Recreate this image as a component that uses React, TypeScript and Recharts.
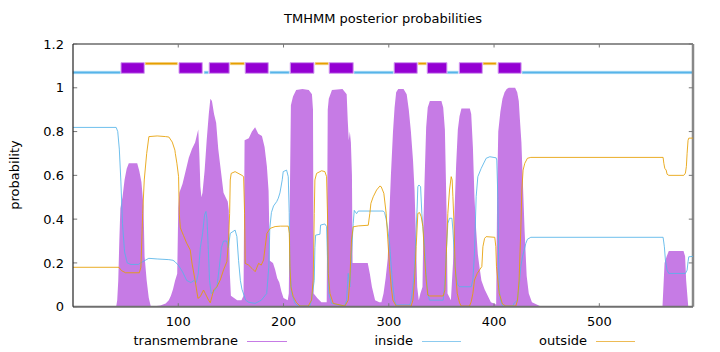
import React from 'react';
import { ComposedChart, Area, Line, XAxis, YAxis, ReferenceArea, ReferenceLine } from 'recharts';

const seqLength = 589;
const xTicks = [100, 200, 300, 400, 500];
const yTicks = [0, 0.2, 0.4, 0.6, 0.8, 1, 1.2];

const transmembrane: [number, number][] = [
  [0, 0], [41, 0], [42, 0.03], [43, 0.12], [44, 0.3], [45, 0.45], [47, 0.5], [49, 0.58], [51, 0.63], [53, 0.655],
  [61, 0.655], [63, 0.62], [65, 0.57], [67, 0.46], [68, 0.23], [70, 0.12], [72, 0.04], [74, 0], [83, 0.005],
  [88, 0.015], [91, 0.03], [93, 0.05], [95, 0.08], [97, 0.12], [99, 0.15], [100, 0.45], [101, 0.52], [104, 0.56],
  [107, 0.62], [110, 0.68], [113, 0.72], [116, 0.75], [118, 0.79], [119, 0.81], [120, 0.7], [121, 0.55], [122, 0.5],
  [123, 0.52], [125, 0.62], [127, 0.76], [129, 0.88], [130.5, 0.95], [132, 0.94], [134, 0.88], [136, 0.84],
  [138, 0.72], [139.5, 0.66], [141, 0.6], [143, 0.52], [145, 0.5], [147, 0.48], [148, 0.44], [149, 0.15],
  [150, 0.05], [156, 0.03], [160, 0.03], [162, 0.05], [163, 0.76], [167, 0.77], [170, 0.8], [173, 0.82],
  [176, 0.79], [179.5, 0.78], [182, 0.73], [184.2, 0.64], [185.8, 0.53], [187, 0.21], [190, 0.2], [192, 0.17],
  [194, 0.13], [196, 0.11], [198, 0.07], [200, 0.04], [204, 0.03], [205, 0.06], [206, 0.5], [207, 0.92],
  [209, 0.96], [212, 0.99], [218, 0.995], [224, 0.99], [227, 0.97], [228, 0.9], [228.6, 0.06], [232, 0.04],
  [236, 0.02], [241, 0.02], [242, 0.9], [243, 0.95], [246, 0.99], [256, 0.995], [260, 0.97], [261, 0.85],
  [262, 0.76], [263, 0.8], [264, 0.75], [265, 0.6], [265.6, 0.2], [269, 0.2], [280, 0.2], [282, 0.15],
  [284, 0.09], [287, 0.03], [291, 0.02], [293, 0.02], [295, 0.06], [297, 0.13], [299, 0.22], [300.5, 0.42],
  [302, 0.6], [304, 0.8], [305.5, 0.91], [307, 0.98], [309, 0.995], [314, 0.995], [317, 0.97], [319, 0.9],
  [321, 0.8], [323, 0.67], [324.5, 0.53], [326, 0.27], [327, 0.09], [328.5, 0.03], [330, 0.06], [332, 0.09],
  [333, 0.4], [334, 0.58], [335.5, 0.82], [337, 0.91], [339, 0.94], [350, 0.94], [351.7, 0.91], [353.3, 0.81],
  [354.9, 0.43], [355.8, 0.06], [359, 0.03], [361, 0.2], [362.4, 0.43], [364, 0.65], [365.6, 0.81], [367.2, 0.87],
  [369, 0.905], [377, 0.905], [378.3, 0.88], [379.9, 0.73], [381.4, 0.5], [383, 0.35], [384.6, 0.24],
  [386.2, 0.18], [388, 0.12], [391, 0.08], [394, 0.05], [397, 0.02], [402, 0.01], [403, 0.55], [404, 0.8],
  [406, 0.89], [408, 0.95], [410, 0.98], [412, 0.995], [414, 1.0], [420, 1.0], [422, 0.98], [423.5, 0.94],
  [424.5, 0.86], [426, 0.75], [427.5, 0.55], [429, 0.35], [431, 0.14], [433, 0.06], [436, 0.02], [445, 0],
  [560, 0], [561, 0.1], [562, 0.2], [564, 0.23], [566, 0.254], [580, 0.254], [581.5, 0.23], [582.5, 0.12],
  [584.5, 0], [589, 0],
];

const inside: [number, number][] = [
  [0, 0.819], [41, 0.819], [42.5, 0.8], [44, 0.72], [45.5, 0.57], [47, 0.38], [49, 0.25], [51.5, 0.2], [55, 0.193],
  [62, 0.193], [66, 0.205], [72, 0.221], [80, 0.218], [91, 0.215], [95, 0.212], [97, 0.205], [100, 0.19],
  [104, 0.16], [108, 0.12], [112, 0.11], [115, 0.12], [117, 0.11], [119, 0.15], [121, 0.27], [123, 0.33],
  [125, 0.42], [126.3, 0.435], [127.3, 0.4], [128.5, 0.27], [129.7, 0.12], [131.3, 0.06], [134, 0.07],
  [136.7, 0.09], [139, 0.18], [141, 0.27], [143, 0.3], [146, 0.3], [147.6, 0.27], [149.4, 0.335], [154, 0.35],
  [155.7, 0.32], [157.3, 0.21], [159, 0.12], [160.5, 0.08], [164, 0.03], [167, 0.02], [173, 0.015], [179, 0.03],
  [184, 0.06], [186, 0.18], [187, 0.36], [188.5, 0.43], [190.5, 0.46], [193.5, 0.48], [195, 0.495],
  [196.6, 0.52], [198.8, 0.58], [199.7, 0.617], [202.9, 0.624], [204.5, 0.594], [205.4, 0.43], [206, 0.18],
  [207.7, 0.06], [211, 0.015], [214, 0.003], [225, 0.003], [226.6, 0.03], [229.2, 0.12], [229.8, 0.27],
  [230.5, 0.327], [234.6, 0.331], [235.2, 0.373], [239.3, 0.378], [240.9, 0.366], [241.9, 0.2], [243.1, 0.06],
  [245.6, 0.015], [258, 0.003], [259.9, 0.03], [261.5, 0.152], [263, 0.09], [264.6, 0.245], [266.2, 0.38],
  [267.2, 0.44], [269.4, 0.425], [271, 0.437], [294.7, 0.437], [296, 0.43], [297.5, 0.4], [299.1, 0.35],
  [300.7, 0.29], [302.3, 0.183], [303.9, 0.09], [305.5, 0.03], [307, 0.008], [320, 0.008], [321.3, 0.03],
  [322.9, 0.09], [324.5, 0.183], [326, 0.35], [327, 0.46], [327.6, 0.548], [328.6, 0.556], [330.2, 0.548],
  [331.4, 0.426], [332.4, 0.365], [334, 0.274], [335.5, 0.152], [337.1, 0.06], [338.7, 0.03], [351.7, 0.03],
  [353.3, 0.122], [354.9, 0.274], [356.1, 0.38], [357.7, 0.404], [360, 0.404], [360.9, 0.35], [362.4, 0.228],
  [364, 0.137], [365.6, 0.099], [367.2, 0.091], [378.3, 0.091], [379.9, 0.122], [381.4, 0.244], [383, 0.503],
  [384.6, 0.594], [387.8, 0.632], [392.5, 0.678], [396, 0.685], [402, 0.68], [402.6, 0.67], [403.6, 0.5],
  [404.2, 0.27], [404.8, 0.09], [406, 0.03], [408, 0.003], [418, 0.003], [419, 0.015], [422, 0.03],
  [423.8, 0.091], [425.4, 0.183], [427, 0.228], [428.6, 0.259], [430.2, 0.289], [431.7, 0.308], [434.9, 0.317],
  [560.6, 0.317], [561.8, 0.274], [562.8, 0.213], [564.4, 0.167], [566, 0.152], [581.8, 0.152], [583.4, 0.167],
  [584.3, 0.206], [585, 0.228], [589, 0.23],
];

const outside: [number, number][] = [
  [0, 0.18], [43.6, 0.18], [46, 0.165], [50, 0.155], [63, 0.155], [64.5, 0.18], [66.2, 0.426], [67.7, 0.579],
  [70, 0.7], [72.1, 0.777], [80, 0.78], [88, 0.777], [91.1, 0.775], [94.3, 0.752], [96.8, 0.715], [97.2, 0.7],
  [98.7, 0.655], [100.3, 0.594], [101, 0.42], [102, 0.36], [105, 0.325], [108, 0.29], [111.4, 0.259],
  [113, 0.2], [116, 0.12], [118.7, 0.038], [120.9, 0.046], [124, 0.076], [125.6, 0.061], [128.8, 0.03],
  [130.4, 0.018], [132, 0.046], [133.6, 0.076], [136.7, 0.091], [139.9, 0.122], [143, 0.168], [146.2, 0.206],
  [147.8, 0.304], [148.8, 0.426], [149.4, 0.579], [150.3, 0.609], [154, 0.617], [160.5, 0.6], [162.1, 0.594],
  [163, 0.426], [163.6, 0.198], [166.8, 0.19], [170, 0.175], [173.1, 0.16], [176.3, 0.198], [178.8, 0.19],
  [181, 0.213], [182.6, 0.274], [184.2, 0.335], [187.4, 0.358], [192, 0.366], [197, 0.368], [204.5, 0.368],
  [205.5, 0.335], [206.1, 0.183], [207, 0.091], [209.2, 0.046], [212.4, 0.018], [215.6, 0.003], [223.5, 0.003],
  [226.6, 0.03], [228.2, 0.122], [229.2, 0.426], [229.8, 0.579], [231.4, 0.609], [236.2, 0.621], [239.3, 0.617],
  [240.9, 0.594], [241.9, 0.396], [242.5, 0.152], [244.1, 0.061], [247.2, 0.015], [258.3, 0.003], [261.5, 0.03],
  [263, 0.122], [264.6, 0.305], [266.2, 0.365], [271, 0.369], [280.5, 0.372], [282, 0.426], [283, 0.472],
  [285.2, 0.502], [288.4, 0.533], [291.5, 0.551], [292.8, 0.548], [295.3, 0.518], [297.5, 0.426], [299.1, 0.305],
  [300.7, 0.183], [302.3, 0.091], [303.9, 0.03], [307, 0.003], [321.3, 0.003], [322.9, 0.03], [324.5, 0.122],
  [326, 0.274], [327.6, 0.426], [329.2, 0.43], [330.8, 0.411], [332.4, 0.365], [334, 0.228], [335.5, 0.122],
  [337.1, 0.053], [338.7, 0.049], [351.7, 0.049], [353.3, 0.076], [354.9, 0.274], [356.1, 0.426], [357.7, 0.533],
  [359.3, 0.594], [360.2, 0.579], [360.9, 0.503], [361.8, 0.396], [363, 0.183], [365, 0.061], [367.2, 0.018],
  [368.8, 0.003], [376.7, 0.003], [378.3, 0.023], [379.9, 0.061], [381.4, 0.122], [384, 0.152], [386.2, 0.168],
  [388.4, 0.183], [389.4, 0.274], [391, 0.312], [392.5, 0.32], [400.7, 0.317], [401.7, 0.274], [402.3, 0.183],
  [404.9, 0.061], [408, 0.012], [411.2, 0.003], [420.7, 0.003], [422.3, 0.03], [423.8, 0.122], [425.4, 0.35],
  [426.4, 0.533], [427.6, 0.624], [429.2, 0.655], [431.7, 0.678], [434.9, 0.682], [560.6, 0.682], [561.3, 0.655],
  [562.2, 0.632], [563.5, 0.624], [564.4, 0.605], [566, 0.6], [580.2, 0.6], [581.8, 0.61], [582.7, 0.64],
  [583.4, 0.7], [584.3, 0.76], [585, 0.77], [589, 0.77],
];

const helixSegments: [number, number][] = [
  [45.6, 67.7], [100.7, 122.8], [129.4, 148.4], [163.6, 185.5], [206.4, 228.9],
  [243.4, 266.2], [305.1, 327], [336.5, 355.2], [367, 388.8], [403.9, 425.7],
];
const insideSegments: [number, number][] = [
  [0, 45], [124.7, 128.5], [187.1, 205.4], [267.1, 304.2], [355.5, 365.9], [426.7, 589],
];
const outsideSegments: [number, number][] = [
  [68.7, 99.1], [149.4, 162.7], [230.1, 242.5], [328, 335.6], [389.7, 402],
];

const HELIX_BAND: [number, number] = [1.0662, 1.1147];
const INSIDE_BAND: [number, number] = [1.0645, 1.0755];
const OUTSIDE_BAND: [number, number] = [1.1055, 1.1155];

const toRows = (pts: [number, number][]) => pts.map(([x, y]) => ({ x, y }));
const tmRows = toRows(transmembrane);
const inRows = toRows(inside);
const outRows = toRows(outside);

const FONT = '"DejaVu Sans", sans-serif';
const PURPLE = '#C67BE5';
const BLUE = '#56B4E9';
const ORANGE = '#E69F00';

const textStyle: React.CSSProperties = {
  position: 'absolute',
  fontFamily: FONT,
  fontSize: 13,
  color: '#000',
  whiteSpace: 'nowrap',
  lineHeight: '16px',
};

export default function App() {
  return (
    <div style={{ position: 'absolute', left: 0, top: 0, width: 720, height: 352, background: '#fff' }}>
      <ComposedChart width={720} height={352} margin={{ top: 44, right: 27, left: 0, bottom: 15.3 }}>
        <XAxis
          type="number"
          dataKey="x"
          domain={[0, seqLength]}
          ticks={xTicks}
          allowDataOverflow
          tickLine={false}
          tickSize={0}
          tickMargin={10}
          height={30}
          axisLine={{ stroke: '#6f6f6f', strokeWidth: 2 }}
          tick={{ fill: '#000', fontSize: 13, fontFamily: FONT }}
        />
        <YAxis
          type="number"
          domain={[0, 1.2]}
          ticks={yTicks}
          allowDataOverflow
          width={73}
          tickLine={false}
          tickSize={0}
          tickMargin={9}
          axisLine={{ stroke: '#222', strokeWidth: 1.2 }}
          tick={{ fill: '#000', fontSize: 13, fontFamily: FONT }}
        />
        <ReferenceLine y={1.2} stroke="#222" strokeWidth={1.2} />
        <ReferenceLine x={seqLength} stroke="#888" strokeWidth={2.5} />
        {yTicks.map((v) => (
          <ReferenceLine key={'yl' + v} segment={[{ x: 0, y: v }, { x: 4, y: v }]} stroke="#777" />
        ))}
        {yTicks.map((v) => (
          <ReferenceLine key={'yr' + v} segment={[{ x: seqLength - 4, y: v }, { x: seqLength, y: v }]} stroke="#777" />
        ))}
        {xTicks.map((t) => (
          <ReferenceLine key={'xb' + t} segment={[{ x: t, y: 0 }, { x: t, y: 0.016 }]} stroke="#777" />
        ))}
        {xTicks.map((t) => (
          <ReferenceLine key={'xt' + t} segment={[{ x: t, y: 1.2 }, { x: t, y: 1.184 }]} stroke="#777" />
        ))}
        {insideSegments.map(([a, b]) => (
          <ReferenceArea key={'in' + a} x1={a} x2={b} y1={INSIDE_BAND[0]} y2={INSIDE_BAND[1]}
            fill={BLUE} fillOpacity={1} stroke="#A6D8F3" strokeWidth={0.6} />
        ))}
        {outsideSegments.map(([a, b]) => (
          <ReferenceArea key={'out' + a} x1={a} x2={b} y1={OUTSIDE_BAND[0]} y2={OUTSIDE_BAND[1]}
            fill={ORANGE} fillOpacity={1} stroke="#F2CC7A" strokeWidth={0.6} />
        ))}
        {helixSegments.map(([a, b]) => (
          <ReferenceArea key={'tm' + a} x1={a} x2={b} y1={HELIX_BAND[0]} y2={HELIX_BAND[1]}
            fill="#9400D3" fillOpacity={1} stroke="#D19BEF" strokeWidth={1} />
        ))}
        <Area
          data={tmRows}
          dataKey="y"
          type="linear"
          fill={PURPLE}
          fillOpacity={1}
          stroke="none"
          isAnimationActive={false}
          dot={false}
          activeDot={false}
        />
        <Line
          data={inRows}
          dataKey="y"
          type="linear"
          stroke={BLUE}
          strokeWidth={1}
          strokeOpacity={0.85}
          dot={false}
          activeDot={false}
          isAnimationActive={false}
        />
        <Line
          data={outRows}
          dataKey="y"
          type="linear"
          stroke={ORANGE}
          strokeWidth={1}
          strokeOpacity={0.85}
          dot={false}
          activeDot={false}
          isAnimationActive={false}
        />
      </ComposedChart>

      <div style={{ ...textStyle, left: 73, width: 620, top: 11, textAlign: 'center' }}>
        TMHMM posterior probabilities
      </div>
      <div style={{ ...textStyle, left: 15, top: 175, transform: 'translate(-50%, -50%) rotate(-90deg)' }}>
        probability
      </div>

      <div style={{ ...textStyle, right: 720 - 238, top: 333, textAlign: 'right' }}>transmembrane</div>
      <div style={{ position: 'absolute', left: 247, top: 341, width: 40, height: 1, background: PURPLE }} />
      <div style={{ ...textStyle, right: 720 - 413, top: 333, textAlign: 'right' }}>inside</div>
      <div style={{ position: 'absolute', left: 422, top: 341, width: 39, height: 1, background: '#8CCBEF' }} />
      <div style={{ ...textStyle, right: 720 - 587, top: 333, textAlign: 'right' }}>outside</div>
      <div style={{ position: 'absolute', left: 596, top: 341, width: 39, height: 1, background: '#EDBB55' }} />
    </div>
  );
}
